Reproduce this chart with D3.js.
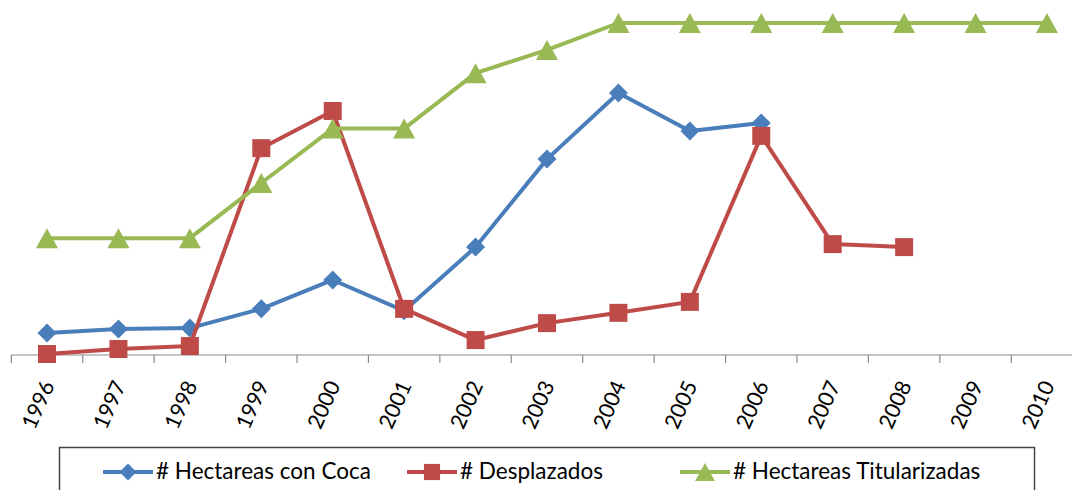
<!DOCTYPE html>
<html>
<head>
<meta charset="utf-8">
<script src="https://cdn.jsdelivr.net/npm/d3@7"></script>
<style>
  body { margin: 0; background: #fff; overflow: hidden; }
  svg { display: block; }
  text { font-family: Lato, "Open Sans", sans-serif; fill: #000; }
</style>
</head>
<body>
<script>
// categories and series (no y axis in the picture, values as relative index 0-100)
const years = ['1996', '1997', '1998', '1999', '2000', '2001', '2002', '2003',
               '2004', '2005', '2006', '2007', '2008', '2009', '2010'];
const coca = [6.6, 7.8, 8.1, 13.9, 22.6, 13.3, 32.5, 59.0, 78.9, 67.5, 69.9, null, null, null, null];
const desplazados = [0.3, 1.8, 2.7, 62.3, 73.5, 13.9, 4.5, 9.6, 12.7, 16.0, 66.0, 33.4, 32.5, null, null];
const titularizadas = [35.2, 35.2, 35.2, 51.8, 68.2, 68.2, 84.9, 91.9, 100, 100, 100, 100, 100, 100, 100];

const seriesNames = ['# Hectareas con Coca', '# Desplazados', '# Hectareas Titularizadas'];
const seriesColors = ['#4A7EBB', '#BE4B48', '#98B954'];

const width = 1072, height = 490;

const svg = d3.select('body')
    .append('svg')
    .attr('width', width)
    .attr('height', height);

// 15 category bands, plot is a bit wider than the window on the right
const x = d3.scaleBand()
    .domain(years)
    .range([11.3, 1082.7]);

const y = d3.scaleLinear()
    .domain([0, 100])
    .range([355, 23]);

const cx = d => x(d) + x.bandwidth() / 2;

// axis: line + tick marks between categories
const axisY = y(0);
svg.append('line')
    .attr('x1', x.range()[0])
    .attr('x2', width)
    .attr('y1', axisY)
    .attr('y2', axisY)
    .attr('stroke', '#8C8C8C')
    .attr('stroke-width', 1.2);

svg.selectAll('.tick')
    .data(years.concat(['end']))
    .enter()
    .append('line')
    .attr('class', 'tick')
    .attr('x1', d => d === 'end' ? x.range()[1] : x(d))
    .attr('x2', d => d === 'end' ? x.range()[1] : x(d))
    .attr('y1', axisY)
    .attr('y2', axisY + 8)
    .attr('stroke', '#8C8C8C')
    .attr('stroke-width', 1.2);

// rotated year labels
svg.selectAll('.yearLabel')
    .data(years)
    .enter()
    .append('text')
    .attr('class', 'yearLabel')
    .attr('text-anchor', 'end')
    .attr('font-size', 21.5)
    .attr('transform', d => 'translate(' + (cx(d) + 8) + ',385) rotate(-66)')
    .text(d => d);

// marker shapes
function markerPath(kind, s) {
    s = s || 1;
    if (kind === 0) {
        let r = 9.5 * s;
        return 'M0,' + (-r) + 'L' + r + ',0L0,' + r + 'L' + (-r) + ',0Z';
    }
    if (kind === 1) {
        let r = 9 * s;
        return 'M' + (-r) + ',' + (-r) + 'H' + r + 'V' + r + 'H' + (-r) + 'Z';
    }
    let w = 11 * s, h = 10 * s;
    return 'M0,' + (-h) + 'L' + w + ',' + h + 'L' + (-w) + ',' + h + 'Z';
}

let line = d3.line()
    .defined(d => d.v !== null)
    .x(d => cx(d.year))
    .y(d => y(d.v));

const allSeries = [coca, desplazados, titularizadas];

// draw in order so green ends on top like the picture
[0, 1, 2].forEach(function (i) {
    let pts = years.map((yr, j) => ({ year: yr, v: allSeries[i][j] }));
    let g = svg.append('g');
    g.append('path')
        .datum(pts)
        .attr('d', line)
        .attr('fill', 'none')
        .attr('stroke', seriesColors[i])
        .attr('stroke-width', 4)
        .attr('stroke-linejoin', 'round');
    g.selectAll('path.mk')
        .data(pts.filter(d => d.v !== null))
        .enter()
        .append('path')
        .attr('class', 'mk')
        .attr('d', markerPath(i))
        .attr('transform', d => 'translate(' + cx(d.year) + ',' + y(d.v) + ')')
        .attr('fill', seriesColors[i]);
});

// legend box (bottom is cut by the window)
svg.append('rect')
    .attr('x', 59.5)
    .attr('y', 447.5)
    .attr('width', 975)
    .attr('height', 60)
    .attr('fill', '#fff')
    .attr('stroke', '#444')
    .attr('stroke-width', 1.5);

const legendX = [103, 407, 680];
seriesNames.forEach(function (name, i) {
    let lg = svg.append('g').attr('transform', 'translate(' + legendX[i] + ',472)');
    lg.append('line')
        .attr('x1', 0)
        .attr('x2', 50)
        .attr('stroke', seriesColors[i])
        .attr('stroke-width', 4);
    lg.append('path')
        .attr('d', markerPath(i, 0.9))
        .attr('transform', 'translate(25,0)')
        .attr('fill', seriesColors[i]);
    lg.append('text')
        .attr('x', 53)
        .attr('y', 6.5)
        .attr('font-size', 22.5)
        .attr('fill', '#000')
        .text(name);
});
</script>
</body>
</html>
